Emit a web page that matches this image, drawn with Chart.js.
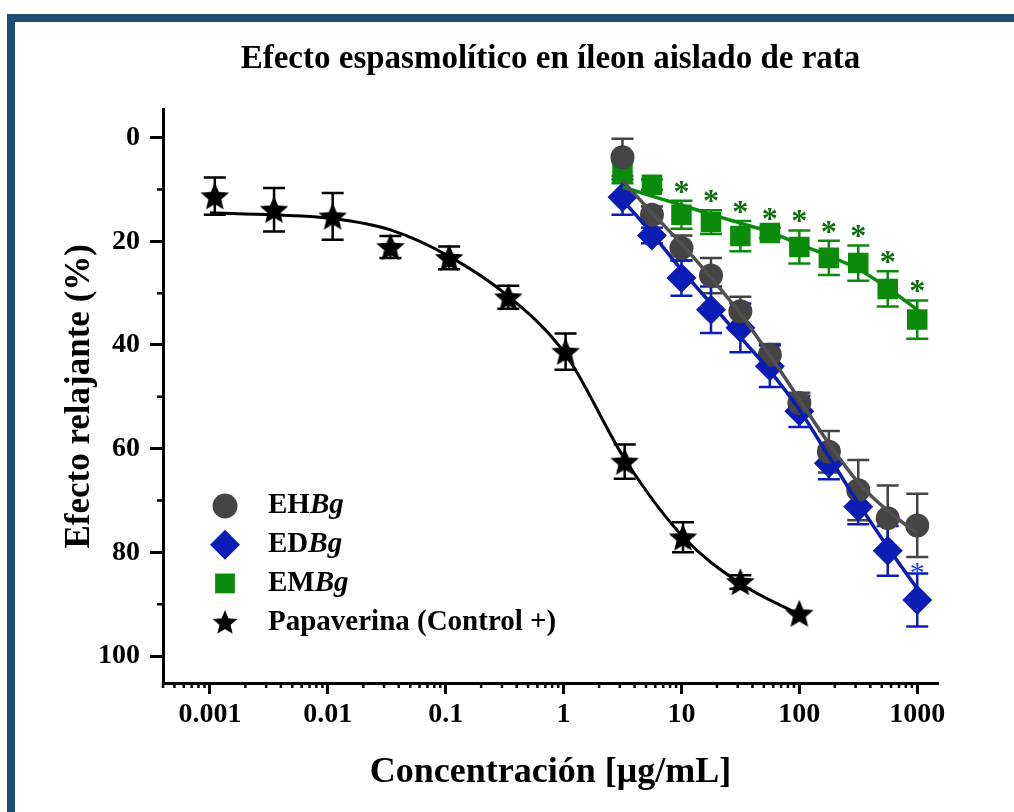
<!DOCTYPE html>
<html>
<head>
<meta charset="utf-8">
<script src="https://cdn.jsdelivr.net/npm/chart.js@4/dist/chart.umd.min.js"></script>
<style>
  html, body { margin: 0; padding: 0; background: #fff; }
  #frame { position: absolute; left: 7px; top: 14px; width: 1007px; height: 798px;
           border-left: 8px solid #1f4e79; border-top: 8px solid #1f4e79; box-sizing: border-box; }
  #myChart { position: absolute; left: 0; top: 0; }
</style>
</head>
<body>
<div id="frame"></div>
<canvas id="myChart" width="1014" height="812"></canvas>
<script>
// valores
const papX = [0.0011, 0.0035, 0.011, 0.034, 0.107, 0.34, 1.04, 3.3, 10.3, 31.6, 100];
const papY = [11.3, 13.9, 15.2, 21.1, 23.2, 30.8, 41.3, 62.5, 77.1, 85.7, 91.8];
const papErr = [3.6, 4.2, 4.5, 2.1, 2.2, 2.2, 3.5, 3.3, 2.9, 1.3, 0];
const papFitX = [0.001, 0.0035, 0.011, 0.034, 0.107, 0.34, 1.04, 3.3, 10.3, 31.6, 100];
const papFitY = [14.5, 14.9, 15.6, 17.8, 22.9, 30.6, 41.8, 62, 77, 86, 92];

const extX = [3.16, 5.62, 10, 17.8, 31.6, 56.2, 100, 178, 316, 562, 1000];

const ehY = [3.8, 14.9, 21.3, 26.6, 33.5, 41.9, 51.2, 60.6, 68.0, 73.4, 74.8];
const ehErr = [3.6, 1.6, 2.4, 3.4, 2.8, 2.1, 2.0, 4.0, 5.8, 6.3, 6.1];
const ehFit = [8.3, 14.5, 20.5, 27, 34, 42, 50.5, 59, 66.5, 72, 76.3];

const edY = [11.5, 18.9, 27.1, 33.2, 36.7, 44.1, 52.8, 62.8, 71.2, 79.7, 89.2];
const edErr = [3.4, 1.5, 3.4, 4.5, 4.7, 4.0, 3.0, 3.1, 3.4, 4.8, 5.1];
const edFit = [12, 18.5, 25.5, 32, 38.5, 45, 52.5, 61.5, 70.5, 79, 87];
const edSig = [0, 0, 0, 0, 0, 0, 0, 0, 0, 0, 1];

const emY = [6.8, 9.1, 14.9, 16.3, 19.0, 18.4, 21.1, 23.2, 24.2, 29.2, 35.1];
const emErr = [2.0, 1.0, 2.7, 2.3, 2.9, 1.0, 3.2, 3.3, 3.4, 3.4, 3.7];
const emFit = [9.5, 11.3, 13, 14.8, 16.5, 18.2, 20.6, 22.8, 25.4, 29, 33.2];
const emSig = [0, 0, 1, 1, 1, 1, 1, 1, 1, 1, 1];

const xTicks = [0.001, 0.01, 0.1, 1, 10, 100, 1000];
const xTickLabels = ['0.001', '0.01', '0.1', '1', '10', '100', '1000'];
const xMinorMult = [2, 3, 4, 5, 6, 7, 8, 9];
const yTicks = [0, 20, 40, 60, 80, 100];
const yMinorTicks = [10, 30, 50, 70, 90];

const FONT = "'Liberation Serif', 'Times New Roman', serif";
const GRAY = '#444444', BLUE = '#0b1db4', GREEN = '#0a8c0a', BLACK = '#000000';

// estrella rellena como pointStyle
function makeStar(r) {
    const c = document.createElement('canvas');
    c.width = c.height = Math.ceil(r * 2 + 2);
    const g = c.getContext('2d');
    const cx = c.width / 2, cy = c.height / 2 + r * 0.08;
    g.beginPath();
    for (let i = 0; i < 10; i++) {
        const rr = i % 2 === 0 ? r : r * 0.45;
        const a = -Math.PI / 2 + i * Math.PI / 5;
        g.lineTo(cx + rr * Math.cos(a), cy + rr * Math.sin(a));
    }
    g.closePath();
    g.fillStyle = '#000';
    g.fill();
    return c;
}
const starBig = makeStar(15);
const starSmall = makeStar(13);

function pts(xs, ys) { return xs.map((x, i) => ({x: x, y: ys[i]})); }

const series = [
    {x: papX, y: papY, err: papErr, color: BLACK},
    {x: extX, y: ehY, err: ehErr, color: GRAY},
    {x: extX, y: edY, err: edErr, color: BLUE},
    {x: extX, y: emY, err: emErr, color: GREEN}
];

const errorBars = {
    id: 'errorBars',
    beforeDatasetsDraw(chart) {
        const ctx = chart.ctx, xs = chart.scales.x, ys = chart.scales.y;
        ctx.save();
        ctx.lineWidth = 2.5;
        series.forEach(s => {
            ctx.strokeStyle = s.color;
            s.x.forEach((xv, i) => {
                const e = s.err[i];
                if (!e) return;
                const px = xs.getPixelForValue(xv);
                const t = ys.getPixelForValue(s.y[i] - e);
                const b = ys.getPixelForValue(s.y[i] + e);
                ctx.beginPath();
                ctx.moveTo(px, t); ctx.lineTo(px, b);
                ctx.moveTo(px - 11, t); ctx.lineTo(px + 11, t);
                ctx.moveTo(px - 11, b); ctx.lineTo(px + 11, b);
                ctx.stroke();
            });
        });
        ctx.restore();
    }
};

const asterisks = {
    id: 'asterisks',
    afterDatasetsDraw(chart) {
        const ctx = chart.ctx, xs = chart.scales.x, ys = chart.scales.y;
        ctx.save();
        ctx.textAlign = 'center';
        ctx.textBaseline = 'alphabetic';
        ctx.font = 'bold 32px ' + FONT;
        ctx.fillStyle = '#0b6e0b';
        extX.forEach((xv, i) => {
            if (!emSig[i]) return;
            const top = ys.getPixelForValue(emY[i] - emErr[i]);
            ctx.fillText('*', xs.getPixelForValue(xv), top + 1);
        });
        ctx.font = '30px ' + FONT;
        ctx.fillStyle = '#1f3fe6';
        extX.forEach((xv, i) => {
            if (!edSig[i]) return;
            const top = ys.getPixelForValue(edY[i] - edErr[i]);
            ctx.fillText('*', xs.getPixelForValue(xv), top + 8);
        });
        ctx.restore();
    }
};

const minorTicks = {
    id: 'minorTicks',
    afterDraw(chart) {
        const ctx = chart.ctx, xs = chart.scales.x, ys = chart.scales.y;
        ctx.save();
        ctx.strokeStyle = '#000';
        ctx.lineWidth = 2.5;
        ctx.beginPath();
        for (let d = -4; d <= 3; d++) {
            xMinorMult.forEach(m => {
                const v = m * Math.pow(10, d);
                if (v < xs.min || v > xs.max) return;
                const px = xs.getPixelForValue(v);
                ctx.moveTo(px, ys.bottom);
                ctx.lineTo(px, ys.bottom + 5);
            });
        }
        yMinorTicks.forEach(v => {
            const py = ys.getPixelForValue(v);
            ctx.moveTo(xs.left, py);
            ctx.lineTo(xs.left - 6, py);
        });
        ctx.stroke();
        ctx.restore();
    }
};

const legendRows = [
    {main: 'EH', ital: 'Bg', style: 'circle', radius: 12.5, color: GRAY},
    {main: 'ED', ital: 'Bg', style: 'rectRot', radius: 15, color: BLUE},
    {main: 'EM', ital: 'Bg', style: 'rect', radius: 14, color: GREEN},
    {main: 'Papaverina (Control +)', ital: '', style: starSmall, radius: 13, color: BLACK}
];

const customLegend = {
    id: 'customLegend',
    afterDraw(chart) {
        const ctx = chart.ctx;
        ctx.save();
        ctx.textBaseline = 'middle';
        legendRows.forEach((row, i) => {
            const y = 506 + i * 38.7;
            ctx.fillStyle = row.color;
            ctx.strokeStyle = row.color;
            Chart.helpers.drawPoint(ctx, {pointStyle: row.style, radius: row.radius, rotation: 0, borderWidth: 0}, 225, y);
            ctx.fillStyle = '#000';
            ctx.font = 'bold 29px ' + FONT;
            ctx.fillText(row.main, 268, y);
            if (row.ital) {
                const w = ctx.measureText(row.main).width;
                ctx.font = 'italic bold 29px ' + FONT;
                ctx.fillText(row.ital, 268 + w, y);
            }
        });
        ctx.restore();
    }
};

const ctx = document.getElementById('myChart').getContext('2d');
const myChart = new Chart(ctx, {
    type: 'scatter',
    data: {
        datasets: [
            {label: 'EHBg fit', data: pts(extX, ehFit), showLine: true, pointRadius: 0, borderColor: '#505050', borderWidth: 3.5, cubicInterpolationMode: 'monotone', order: 1},
            {label: 'EDBg fit', data: pts(extX, edFit), showLine: true, pointRadius: 0, borderColor: BLUE, borderWidth: 3.5, cubicInterpolationMode: 'monotone', order: 1},
            {label: 'EMBg fit', data: pts(extX, emFit), showLine: true, pointRadius: 0, borderColor: GREEN, borderWidth: 3.5, cubicInterpolationMode: 'monotone', order: 1},
            {label: 'Papaverina fit', data: pts(papFitX, papFitY), showLine: true, pointRadius: 0, borderColor: BLACK, borderWidth: 3, cubicInterpolationMode: 'monotone', order: 1},
            {label: 'Papaverina (Control +)', data: pts(papX, papY), pointStyle: starBig, pointRadius: 15, order: 5},
            {label: 'EMBg', data: pts(extX, emY), pointStyle: 'rect', pointRadius: 14.5, backgroundColor: GREEN, borderWidth: 0, order: 4},
            {label: 'EDBg', data: pts(extX, edY), pointStyle: 'rectRot', pointRadius: 15, backgroundColor: BLUE, borderWidth: 0, order: 3},
            {label: 'EHBg', data: pts(extX, ehY), pointStyle: 'circle', pointRadius: 12, backgroundColor: GRAY, borderWidth: 0, order: 2}
        ]
    },
    options: {
        responsive: false,
        animation: false,
        layout: {padding: {left: 0, right: 76, top: 0, bottom: 0}},
        plugins: {
            legend: {display: false},
            tooltip: {enabled: false},
            title: {
                display: true,
                fullSize: false,
                text: 'Efecto espasmolítico en íleon aislado de rata',
                color: '#000',
                font: {family: FONT, size: 33, weight: 'bold'},
                padding: {top: 40, bottom: 30}
            }
        },
        scales: {
            x: {
                type: 'logarithmic',
                min: 0.0004,
                max: 1500,
                afterBuildTicks: s => { s.ticks = xTicks.map(v => ({value: v})); },
                afterFit: s => { s.height = 129; },
                ticks: {
                    color: '#000',
                    font: {family: FONT, size: 28, weight: 'bold'},
                    padding: 4,
                    maxRotation: 0,
                    autoSkip: false,
                    callback: (v, i) => xTickLabels[i]
                },
                grid: {drawOnChartArea: false, drawTicks: true, tickLength: 11, tickWidth: 3, tickColor: '#000'},
                border: {display: true, color: '#000', width: 3},
                title: {
                    display: true,
                    text: 'Concentración [μg/mL]',
                    color: '#000',
                    font: {family: FONT, size: 36, weight: 'bold'},
                    padding: {top: 0, bottom: 18}
                }
            },
            y: {
                type: 'linear',
                reverse: true,
                min: -5.4,
                max: 105.2,
                afterBuildTicks: s => { s.ticks = yTicks.map(v => ({value: v})); },
                afterFit: s => { s.width = 163; },
                ticks: {
                    color: '#000',
                    font: {family: FONT, size: 28, weight: 'bold'},
                    padding: 10
                },
                grid: {drawOnChartArea: false, drawTicks: true, tickLength: 13, tickWidth: 3, tickColor: '#000'},
                border: {display: true, color: '#000', width: 3},
                title: {
                    display: true,
                    text: 'Efecto relajante (%)',
                    color: '#000',
                    font: {family: FONT, size: 35, weight: 'bold'},
                    padding: {top: 59, bottom: 0}
                }
            }
        }
    },
    plugins: [errorBars, asterisks, minorTicks, customLegend]
});
</script>
</body>
</html>
